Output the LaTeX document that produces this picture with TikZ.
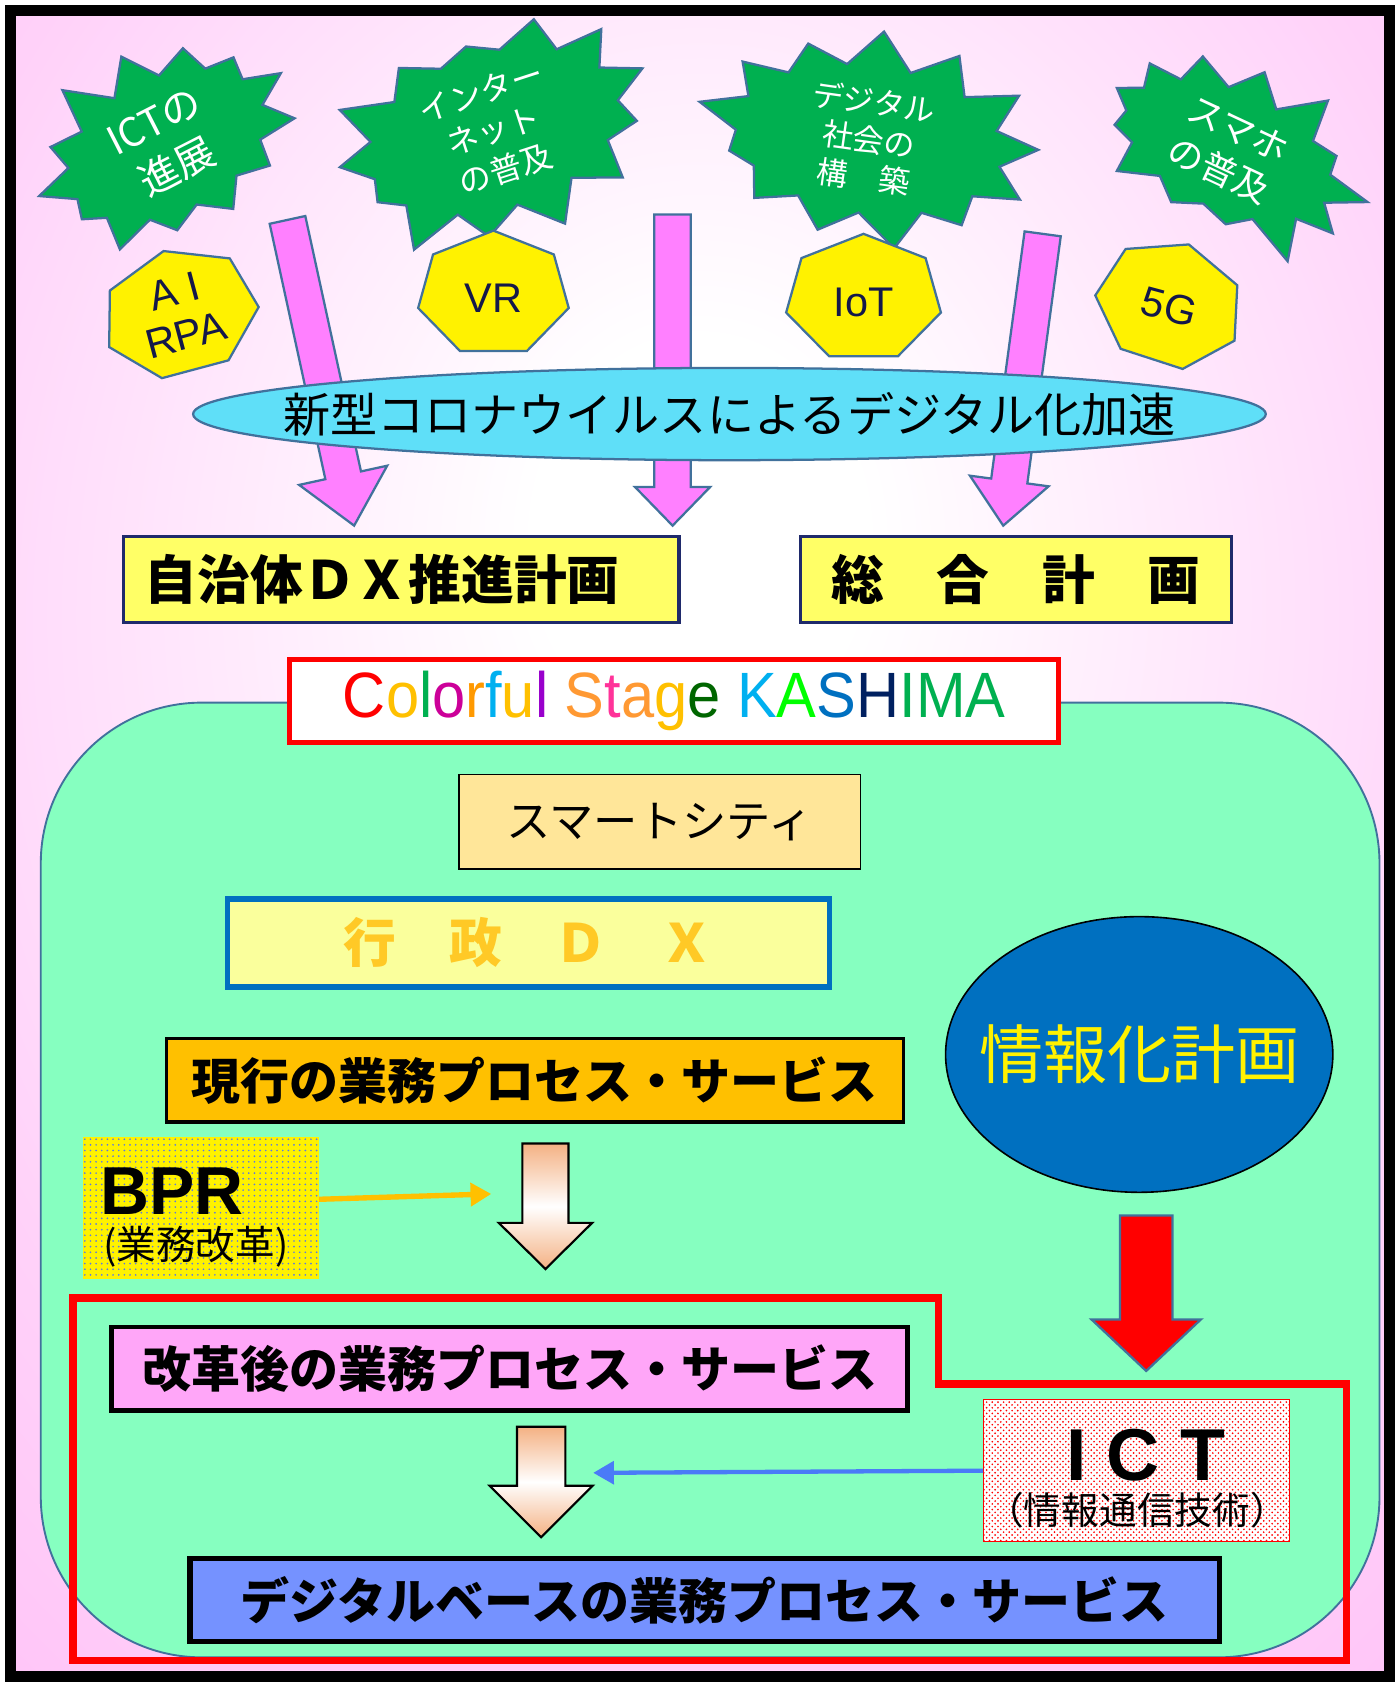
\documentclass[tikz,border=0pt]{standalone}
\usepackage{fontspec}
\setmainfont{Noto Sans CJK JP}
\newfontfamily\latinfont{Liberation Sans}
\newfontfamily\brandfont[FakeStretch=0.93]{Liberation Sans}
\usetikzlibrary{positioning,calc,arrows.meta,patterns,shapes.geometric,shapes.symbols}
\newlength{\px}
\setlength{\px}{0.02cm}
\definecolor{bgpink}{HTML}{FF9AF2}
\definecolor{edgeblue}{HTML}{41719C}
\definecolor{burstgreen}{HTML}{00B050}
\definecolor{pinkfill}{HTML}{FF80FF}
\definecolor{ovalcyan}{HTML}{5FDFF8}
\definecolor{planyellow}{HTML}{FFFF66}
\definecolor{planedge}{HTML}{1F2A6B}
\definecolor{mint}{HTML}{86FFC0}
\definecolor{citytan}{HTML}{FFE699}
\definecolor{paleyellow}{HTML}{FAFF9C}
\definecolor{dxblue}{HTML}{0070C0}
\definecolor{dxgold}{HTML}{FFC000}
\definecolor{nowamber}{HTML}{FFC000}
\definecolor{afterpink}{HTML}{FFA6F8}
\definecolor{baseblue}{HTML}{7592FF}
\definecolor{peach}{HTML}{F4B183}
\definecolor{linkblue}{HTML}{4A7BF7}
\definecolor{dotblue}{HTML}{5A78E6}
\definecolor{heptnavy}{HTML}{14184A}
\definecolor{kRed}{HTML}{FF0000}
\definecolor{kAmber}{HTML}{FFC000}
\definecolor{kGreen}{HTML}{00B050}
\definecolor{kMagenta}{HTML}{CC0099}
\definecolor{kOrange}{HTML}{FF9900}
\definecolor{kSky}{HTML}{00B0F0}
\definecolor{kPurple}{HTML}{9900CC}
\definecolor{kPeach}{HTML}{FF9933}
\definecolor{kRose}{HTML}{FF3399}
\definecolor{kForest}{HTML}{006600}
\definecolor{kLime}{HTML}{00FF00}
\definecolor{kBlue}{HTML}{0070C0}
\definecolor{kNavy}{HTML}{002060}
\pgfdeclareradialshading{bgshade}{\pgfpoint{0bp}{10bp}}{color(0bp)=(white); color(6bp)=(white); color(30bp)=(bgpink!45); color(50bp)=(bgpink!72); color(72bp)=(bgpink)}
% block arrow: style, start, angle, length, shaft half width, head half width, head length
\newcommand{\blockarrow}[7]{%
  \path[#1,shift={#2},rotate=#3] (0,{-#5}) -- ({#4-#7},{-#5}) -- ({#4-#7},{-#6}) -- (#4,0)
    -- ({#4-#7},#6) -- ({#4-#7},#5) -- (0,#5) -- cycle;}
% down arrow: style, x, top, tip, shaft half width, head half width, head base
\newcommand{\downblock}[7]{%
  \path[#1] ({#2-#5},#3) -- ({#2+#5},#3) -- ({#2+#5},#7) -- ({#2+#6},#7) -- (#2,#4)
    -- ({#2-#6},#7) -- ({#2-#5},#7) -- cycle;}
\begin{document}
\begin{tikzpicture}[x=0.02cm,y=-0.02cm,
  burst/.style={starburst, starburst points=13, starburst point height=0.8cm, fill=burstgreen,
    draw=edgeblue, line width=1.2pt, text=white, align=center, inner sep=0pt},
  hepta/.style={fill=yellow, draw=edgeblue, line width=1.2pt},
  heptext/.style={text=heptnavy, font=\latinfont\fontsize{22}{24}\selectfont, align=center},
  pinkarrow/.style={fill=pinkfill, draw=edgeblue, line width=1.2pt},
  planbox/.style={fill=planyellow, draw=planedge, line width=3\px, minimum height=80\px,
    font=\bfseries\fontsize{28}{30}\selectfont},
  flowbox/.style={draw=black, line width=4\px, minimum height=78\px, font=\bfseries\fontsize{26}{28}\selectfont},
  whitearrow/.style={draw=black, line width=2\px, top color=peach, bottom color=peach, middle color=white},
  redarrow/.style={fill=red, draw=edgeblue, line width=1.2pt},
  linkline/.style={line width=5\px, -{Triangle[length=11pt,width=12pt]}},
]
\useasboundingbox (0,0) rectangle (1300,1568);
%% background
\path[shading=bgshade] (10,10) rectangle (1295,1563);
%% bursts
\node[burst, rotate=27, minimum width=5.5cm, minimum height=4.1cm, random starburst=11,
  font=\fontsize{21}{27}\selectfont] (ictburst) at (155,135) {ICTの\\進展};
\node[burst, rotate=18, minimum width=6.4cm, minimum height=3.9cm, random starburst=23,
  font=\fontsize{17}{21.5}\selectfont] (netburst) at (460,122) {インター\\ネット\\の普及};
\node[burst, rotate=-8, minimum width=6.6cm, minimum height=3.9cm, random starburst=37,
  font=\fontsize{16.5}{20}\selectfont] (socburst) at (810,130) {デジタル\\社会の\\構　築};
\node[burst, rotate=-25, minimum width=5.7cm, minimum height=3.8cm, random starburst=51,
  font=\fontsize{19}{24}\selectfont] (phoneburst) at (1145,140) {スマホ\\の普及};
%% heptagons
\foreach \cx/\cy/\rx/\ry/\rot in {168/292/74/60/15, 460/274/72/59/0, 805/278/74/60/0, 1090/284/70/59/-18}
  \draw[hepta, rotate around={\rot:(\cx,\cy)}] plot[samples at={0,...,6}]
    ({\cx+\rx*cos(-90+\x*360/7)},{\cy+\ry*sin(-90+\x*360/7)}) -- cycle;
\node[heptext, rotate=15] (airpa) at (168,292) {A I\\RPA};
\node[heptext] (vr) at (460,278) {VR};
\node[heptext] (iot) at (805,282) {IoT};
\node[heptext, rotate=-15] (fiveg) at (1090,286) {5G};
%% pink arrows
\blockarrow{pinkarrow}{(268,205)}{-77.7}{291.7}{17}{42}{48}
\blockarrow{pinkarrow}{(627,200)}{-90}{290}{17}{35}{36}
\blockarrow{pinkarrow}{(972,218)}{-97.7}{274.5}{17}{37}{42}
\node[ellipse, fill=ovalcyan, draw=edgeblue, line width=1.2pt, minimum width=1000\px, minimum height=86\px,
  inner xsep=-72\px, inner ysep=0pt, font=\fontsize{25}{27}\selectfont] (corona) at (680,386) {新型コロナウイルスによるデジタル化加速};
\node[planbox, text width=478\px, inner xsep=20\px, align=left] (dxplan) at (374,540) {自治体ＤＸ推進計画};
\node[planbox, minimum width=402\px] (sogo) at (947,540) {総　合　計　画};
%% lower area
\draw[fill=mint, draw=edgeblue, line width=1pt, rounded corners=3cm] (38,655) rectangle (1286,1545);
\node[draw=red, line width=5\px, fill=white, minimum width=717\px, minimum height=77\px, inner sep=0pt,
  font=\brandfont\fontsize{34}{36}\selectfont] (brand) at (628.5,653.5)
  {\textcolor{kRed}{C}\textcolor{kAmber}{o}\textcolor{kGreen}{l}\textcolor{kMagenta}{o}\textcolor{kOrange}{r}\textcolor{kSky}{f}\textcolor{kAmber}{u}\textcolor{kPurple}{l}
   \textcolor{kPeach}{S}\textcolor{kRose}{t}\textcolor{kPeach}{a}\textcolor{kAmber}{g}\textcolor{kForest}{e}
   \textcolor{kSky}{K}\textcolor{kLime}{A}\textcolor{kBlue}{S}\textcolor{kNavy}{H}\textcolor{kGreen}{IMA}};
\node[draw=black, line width=1.5\px, fill=citytan, minimum width=374\px, minimum height=88\px,
  font=\fontsize{23.5}{26}\selectfont] (city) at (615,766) {スマートシティ};
\node[draw=dxblue, line width=5\px, fill=paleyellow, minimum width=561\px, minimum height=82\px,
  text=dxgold!85, font=\bfseries\fontsize{28}{30}\selectfont] (gyosei) at (492.5,879) {行　政　Ｄ　Ｘ};
\node[ellipse, fill=dxblue, draw=black, line width=1.5\px, minimum width=361\px, minimum height=257\px,
  inner xsep=-24\px, text=yellow, font=\fontsize{34}{36}\selectfont] (johoka) at (1062,983) {情報化計画};
\node[flowbox, fill=nowamber, line width=3\px, minimum width=687\px] (now) at (498.5,1007) {現行の業務プロセス・サービス};
\node[fill=yellow, postaction={pattern=dots, pattern color=dotblue}, minimum width=220\px, minimum height=132\px] (bpr) at (187,1126) {};
\node[anchor=base west, inner sep=0pt, font=\latinfont\bfseries\fontsize{36}{36}\selectfont] (bprtitle) at (93,1132) {BPR};
\node[anchor=base west, inner sep=0pt, font=\fontsize{21}{22}\selectfont] (bprsub) at (96,1174) {(業務改革)};
\coordinate (bprend) at (458,1113);
\draw[linkline, nowamber] ($(bpr.east)+(0,-8)$) -- (bprend);
\downblock{whitearrow}{508.5}{1066}{1183}{21.5}{43.5}{1140}
\draw[red, line width=7\px] (68,1210) -- (875,1210) -- (875,1290) -- (1255,1290) -- (1255,1548) -- (68,1548) -- cycle;
\downblock{redarrow}{1068.5}{1133}{1278}{24.5}{51}{1230}
\node[flowbox, fill=afterpink, minimum width=742\px] (after) at (475,1276) {改革後の業務プロセス・サービス};
\node[draw=red, line width=1\px, fill=white, postaction={pattern=crosshatch dots, pattern color=red},
  minimum width=285\px, minimum height=132\px] (ict) at (1059.5,1371) {};
\node[anchor=base, inner sep=0pt, font=\latinfont\bfseries\fontsize{39}{40}\selectfont] (icttitle) at (1068,1380) {I C T};
\node[anchor=base, inner sep=0pt, font=\fontsize{20}{21}\selectfont] (ictsub) at (1060,1421) {（情報通信技術）};
\coordinate (ictend) at (553,1373);
\draw[linkline, linkblue, line width=4\px] (ict.west) -- (ictend);
\downblock{whitearrow}{504.5}{1330}{1433}{22.5}{48}{1385}
\node[flowbox, fill=baseblue, line width=5\px, minimum width=960\px, minimum height=77\px] (digital) at (657,1491.5)
  {デジタルベースの業務プロセス・サービス};
%% frame
\draw[line width=10\px] (10,10) rectangle (1295,1563);
\end{tikzpicture}
\end{document}
